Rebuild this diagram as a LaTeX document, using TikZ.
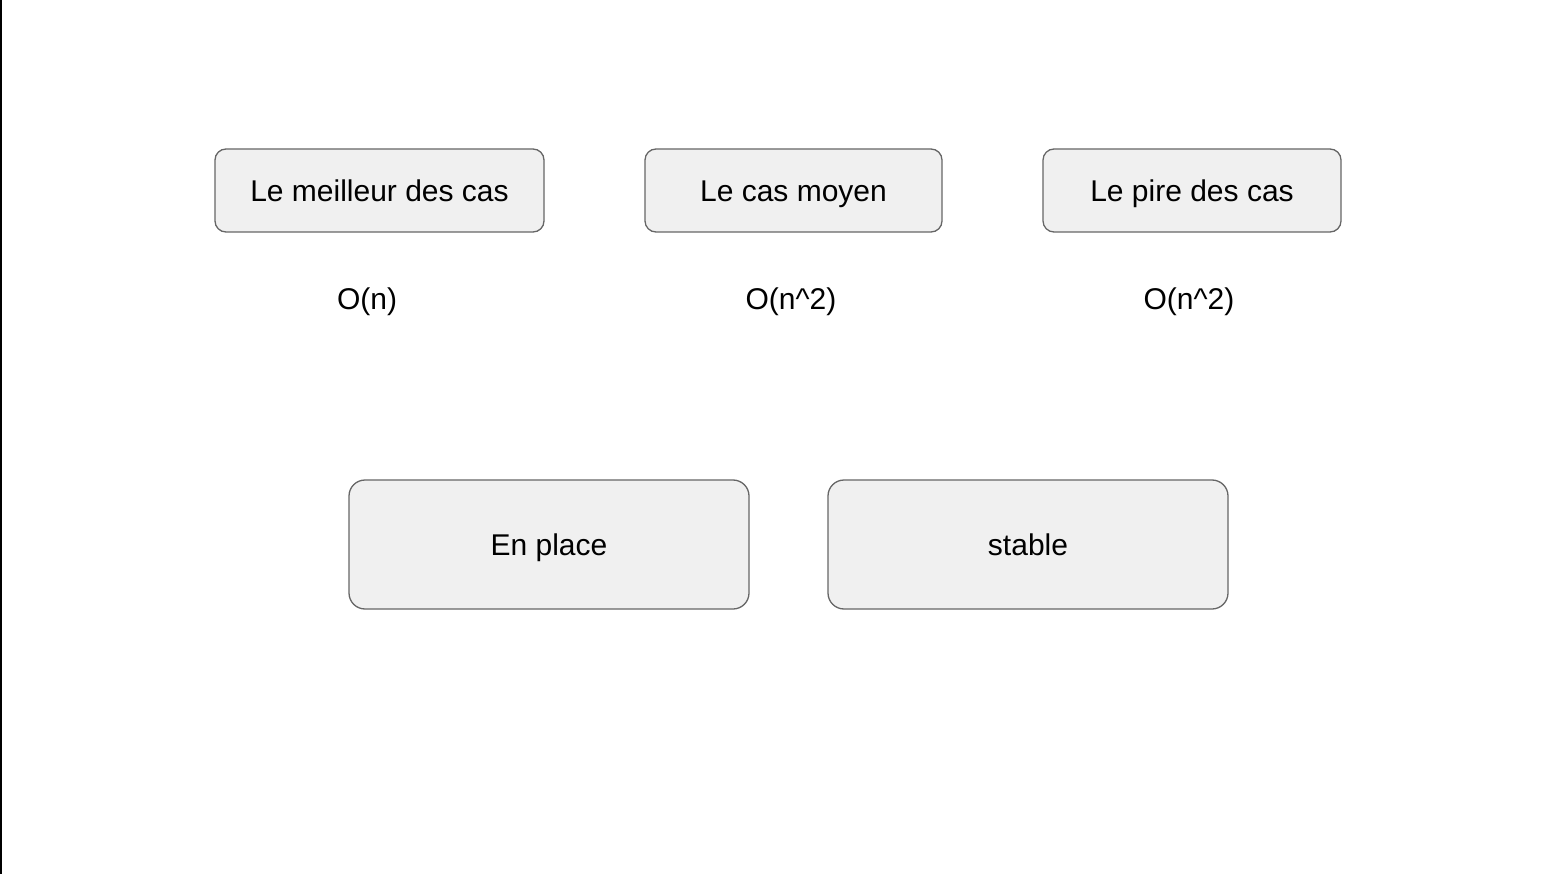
\documentclass[tikz,border=0pt]{standalone}
\usepackage{fontspec}
\setmainfont{Liberation Sans}
\begin{document}
\begin{tikzpicture}
[x=1pt,y=-1pt,thick,
every node/.style={text height=21.5pt,text depth=0pt},
casebox/.style={draw=black!60,fill=black!6,line width=1.3pt,rounded corners=11pt,minimum height=83pt,inner sep=0pt},
propbox/.style={casebox,rounded corners=16pt,minimum width=400pt,minimum height=129pt},
cost/.style={inner sep=0pt}]
\fontsize{30}{36}\selectfont
\useasboundingbox (0,0) rectangle (1554,874);
\fill[black] (0,0) rectangle (2,874);
\node[casebox,minimum width=329pt] (best) at (379.5,190.5) {Le meilleur des cas};
\node[casebox,minimum width=297pt] (avg) at (793.5,190.5) {Le cas moyen};
\node[casebox,minimum width=298pt] (worst) at (1192,190.5) {Le pire des cas};
\node[cost] (bestcost) at (367,299) {O(n)};
\node[cost] (avgcost) at (791,299) {O(n\^{}2)};
\node[cost] (worstcost) at (1189,299) {O(n\^{}2)};
\node[propbox] (inplace) at (549,544.5) {En place};
\node[propbox] (stable) at (1028,544.5) {stable};
\end{tikzpicture}
\end{document}
